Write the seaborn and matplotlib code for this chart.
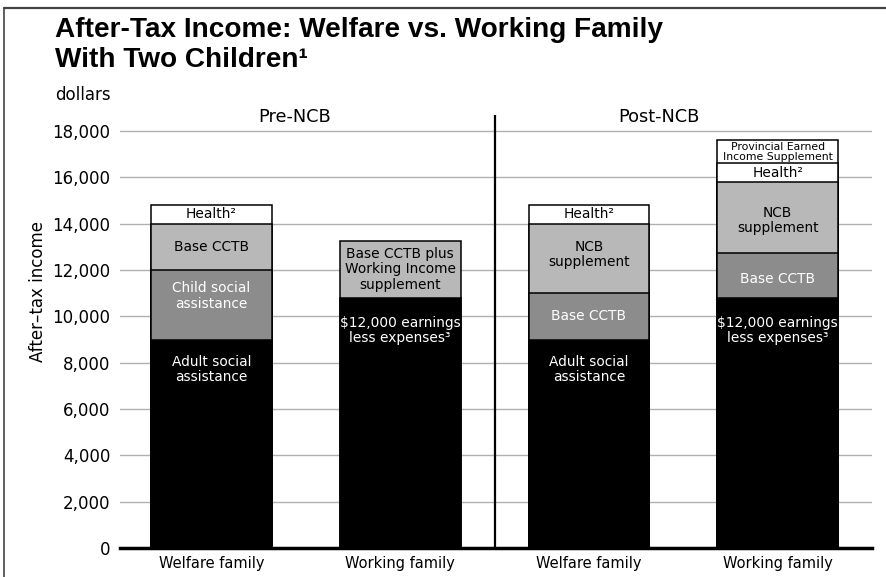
import matplotlib
matplotlib.use("Agg")
import matplotlib.pyplot as plt
import seaborn as sns
import pandas as pd
from matplotlib.lines import Line2D

# ---------------- data ----------------
bar_ids = ["Welfare (Pre-NCB)", "Working (Pre-NCB)", "Welfare (Post-NCB)", "Working (Post-NCB)"]
tick_labels = ["Welfare family", "Working family", "Welfare family", "Working family"]
period_labels = ["Pre-NCB", "Post-NCB"]

welfare_pre_values = [9000, 3000, 2000, 800]
working_pre_values = [10800, 2450]
welfare_post_values = [9000, 2000, 3000, 800]
working_post_values = [10800, 1950, 3050, 800, 1000]

welfare_pre_labels = ["Adult social\nassistance", "Child social\nassistance", "Base CCTB", "Health²"]
working_pre_labels = ["$12,000 earnings\nless expenses³", "Base CCTB plus\nWorking Income\nsupplement"]
welfare_post_labels = ["Adult social\nassistance", "Base CCTB", "NCB\nsupplement", "Health²"]
working_post_labels = ["$12,000 earnings\nless expenses³", "Base CCTB", "NCB\nsupplement", "Health²",
                       "Provincial Earned\nIncome Supplement"]

y_ticks = [0, 2000, 4000, 6000, 8000, 10000, 12000, 14000, 16000, 18000]

# ---------------- style ----------------
BLACK, DARK, LIGHT, WHITE = "#000000", "#8c8c8c", "#b8b8b8", "#ffffff"
seg_colors = [[BLACK, DARK, LIGHT, WHITE],
              [BLACK, LIGHT],
              [BLACK, DARK, LIGHT, WHITE],
              [BLACK, DARK, LIGHT, WHITE, WHITE]]
# label placement: pixels below segment top (None -> centred), extra px shift
label_from_top = {(0, 0): 30, (0, 1): 26, (1, 0): 33, (2, 0): 30, (3, 0): 33}
label_shift = {(2, 2): 4, (3, 2): -3, (3, 1): -4}

sns.set_style("white")
plt.rcParams["font.family"] = ["DejaVu Sans"]
plt.rcParams["text.color"] = "black"
plt.rcParams["xtick.color"] = "black"
plt.rcParams["ytick.color"] = "black"
plt.rcParams["axes.labelcolor"] = "black"

values = [welfare_pre_values, working_pre_values, welfare_post_values, working_post_values]
labels = [welfare_pre_labels, working_pre_labels, welfare_post_labels, working_post_labels]

rows = []
for b, (bid, vals, labs) in enumerate(zip(bar_ids, values, labels)):
    bottom = 0
    for k, (v, lab) in enumerate(zip(vals, labs)):
        rows.append(dict(bar=bid, idx=b, layer=k, value=v, bottom=bottom, top=bottom + v,
                         label=lab, color=seg_colors[b][k]))
        bottom += v
df = pd.DataFrame(rows)

W, H = 887, 577
fig = plt.figure(figsize=(W / 100, H / 100), dpi=100)
ax_left, ax_right, ax_bottom = 120, 872, 548
YMAX = 18700
px_per_unit = 46.33 / 2000
ax_top = ax_bottom - YMAX * px_per_unit
ax = fig.add_axes([ax_left / W, (H - ax_bottom) / H, (ax_right - ax_left) / W, (ax_bottom - ax_top) / H])

for layer in sorted(df.layer.unique(), reverse=True):
    sub = df[df.layer == layer]
    pal = {bid: WHITE for bid in bar_ids}
    pal.update(dict(zip(sub.bar, sub.color)))
    sns.barplot(data=sub, x="bar", y="top", hue="bar", order=bar_ids, hue_order=bar_ids,
                palette=pal, dodge=False, width=0.64, saturation=1, errorbar=None,
                edgecolor="black", linewidth=1.1, legend=False, ax=ax, zorder=3)

for _, r in df.iterrows():
    key = (r.idx, r.layer)
    if key in label_from_top:
        y = r.top - label_from_top[key] / px_per_unit
    else:
        y = (r.bottom + r.top) / 2 + label_shift.get(key, 0) / px_per_unit
    tc = "white" if r.color in (BLACK, DARK) else "black"
    small = r.label.startswith("Provincial")
    ax.text(r.idx, y, r.label, ha="center", va="center", color=tc,
            fontsize=7.8 if small else 9.9, linespacing=0.95 if small else 1.12, zorder=5)

ax.set_xlim(-0.485, 3.5)
ax.set_ylim(0, YMAX)
ax.set_xticks(range(len(tick_labels)))
ax.set_xticklabels(tick_labels, fontsize=10.5)
ax.set_yticks(y_ticks)
ax.set_yticklabels([f"{t:,}" for t in y_ticks], fontsize=12)
ax.tick_params(axis="both", length=0)
ax.tick_params(axis="y", pad=7)
ax.tick_params(axis="x", pad=6)
ax.set_xlabel("")
ax.set_ylabel("")
ax.yaxis.grid(True, color="#b0b0b0", lw=1)
ax.set_axisbelow(True)
for s in ("left", "top", "right"):
    ax.spines[s].set_visible(False)
ax.spines["bottom"].set_linewidth(2.5)
ax.spines["bottom"].set_color("black")
ax.spines["bottom"].set_zorder(6)

ax.axvline(1.5, color="black", lw=1.6, zorder=4)
ax.text(0.44, 18600, period_labels[0], ha="center", va="center", fontsize=12.8)
ax.text(2.37, 18600, period_labels[1], ha="center", va="center", fontsize=12.8)

fig.text(55 / W, 1 - 37 / H, "After-Tax Income: Welfare vs. Working Family", fontsize=20.2,
         fontweight="bold", family="Liberation Sans", va="baseline", ha="left")
fig.text(55 / W, 1 - 67 / H, "With Two Children¹", fontsize=20.2,
         fontweight="bold", family="Liberation Sans", va="baseline", ha="left")
fig.text(55 / W, 1 - 100 / H, "dollars", fontsize=12, va="baseline", ha="left")
fig.text(38 / W, 1 - 292 / H, "After–tax income", fontsize=12, rotation=90, ha="center", va="center")

fig.add_artist(Line2D([4 / W, 1], [1 - 8 / H, 1 - 8 / H], color="#444444", lw=1.6, transform=fig.transFigure))
fig.add_artist(Line2D([4 / W, 4 / W], [0, 1 - 8 / H], color="#444444", lw=1.2, transform=fig.transFigure))

fig.savefig("out.png", dpi=100)
